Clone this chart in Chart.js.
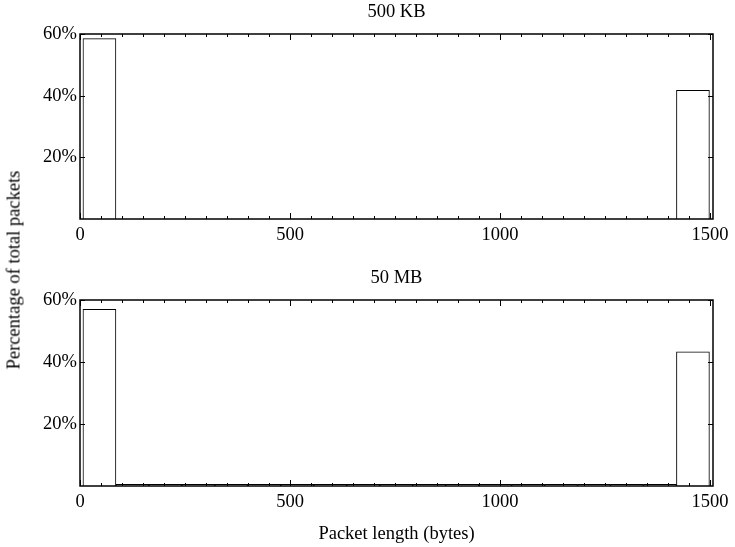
<!DOCTYPE html>
<html lang="en">
<head>
    <meta charset="UTF-8">
    <title>Packet length distribution</title>
    <script src="https://cdn.jsdelivr.net/npm/chart.js"></script>
    <style>
        body { margin: 0; background: #fff; width: 735px; height: 547px; position: relative; overflow: hidden; }
        canvas { position: absolute; left: 0; }
        #top { top: 0; }
        #bottom { top: 260px; }
        .ylabel {
            position: absolute;
            left: 14px;
            top: 270px;
            transform: translate(-50%, -50%) rotate(-90deg);
            font: 18.5px 'Liberation Serif', 'Times New Roman', serif;
            color: #000;
            white-space: nowrap;
        }
    </style>
</head>
<body>
    <canvas id="top" width="735" height="260"></canvas>
    <canvas id="bottom" width="735" height="287"></canvas>
    <div class="ylabel">Percentage of total packets</div>

    <script>
        // histogram bin centres (bytes)
        const binCenters = [46.25, 124.75, 203.25, 281.75, 360.25, 438.75, 517.25, 595.75, 674.25, 752.75,
                            831.25, 909.75, 988.25, 1066.75, 1145.25, 1223.75, 1302.25, 1380.75, 1459.25];
        // percentage of packets per bin
        const kb500 = [58.5, null, null, null, null, null, null, null, null, null,
                       null, null, null, null, null, null, null, null, 41.7];
        const mb50 = [57.0, 0.5, 0.5, 0.5, 0.5, 0.5, 0.5, 0.5, 0.5, 0.5,
                      0.5, 0.5, 0.5, 0.5, 0.5, 0.5, 0.5, 0.5, 43.3];
        const xTicks = [0, 500, 1000, 1500];
        const yTicks = [20, 40, 60];

        const FONT = "'Liberation Serif', 'Times New Roman', serif";
        const SIZE = 18.5;
        Chart.defaults.font.family = FONT;
        Chart.defaults.font.size = SIZE;
        Chart.defaults.color = '#000';

        // inward ticks on all four sides, the box, and the panel title over the plot area
        const framePlugin = {
            id: 'frame',
            afterDraw(chart, args, opts) {
                const { ctx, chartArea: a, scales: { x, y } } = chart;
                ctx.save();
                ctx.strokeStyle = '#000';
                ctx.lineWidth = 1;
                ctx.beginPath();
                for (let v = 0; v <= x.max; v += 50) {
                    const px = Math.round(x.getPixelForValue(v)) + 0.5;
                    const len = v % 500 === 0 ? 6 : 3;
                    ctx.moveTo(px, a.bottom); ctx.lineTo(px, a.bottom - len);
                    ctx.moveTo(px, a.top); ctx.lineTo(px, a.top + len);
                }
                yTicks.forEach(v => {
                    const py = Math.round(y.getPixelForValue(v)) + 0.5;
                    ctx.moveTo(a.left, py); ctx.lineTo(a.left + 5, py);
                    ctx.moveTo(a.right, py); ctx.lineTo(a.right - 5, py);
                });
                ctx.stroke();
                ctx.lineWidth = 1.5;
                ctx.strokeRect(a.left, a.top, a.right - a.left, a.bottom - a.top);

                ctx.fillStyle = '#000';
                ctx.font = SIZE + 'px ' + FONT;
                ctx.textAlign = 'center';
                ctx.textBaseline = 'middle';
                ctx.fillText(opts.text, (a.left + a.right) / 2, opts.y);
                ctx.restore();
            }
        };

        function makeChart(id, title, values, opts) {
            return new Chart(document.getElementById(id), {
                type: 'bar',
                data: {
                    datasets: [{
                        data: binCenters.map((c, i) => ({ x: c, y: values[i] })),
                        backgroundColor: '#fff',
                        borderColor: '#000',
                        borderWidth: 1,
                        barPercentage: 1,
                        categoryPercentage: 1
                    }]
                },
                options: {
                    responsive: false,
                    animation: false,
                    devicePixelRatio: 1,
                    layout: { padding: { left: 0, right: 22, top: opts.top, bottom: 0 } },
                    plugins: {
                        legend: { display: false },
                        tooltip: { enabled: false },
                        title: { display: false },
                        frame: { text: title, y: opts.titleY }
                    },
                    scales: {
                        x: {
                            type: 'linear',
                            offset: false,
                            min: 0,
                            max: 1507,
                            grid: { display: false, drawTicks: false, offset: false },
                            border: { display: false },
                            ticks: { padding: 5, maxRotation: 0, callback: v => String(v) },
                            afterBuildTicks: s => { s.ticks = xTicks.map(v => ({ value: v })); },
                            afterFit: s => { s.height = opts.xHeight; },
                            title: opts.xTitle
                        },
                        y: {
                            min: 0,
                            max: 60,
                            grid: { display: false, drawTicks: false },
                            border: { display: false },
                            ticks: { padding: 3, callback: v => v + '%' },
                            afterBuildTicks: s => { s.ticks = yTicks.map(v => ({ value: v })); },
                            afterFit: s => { s.width = 80; }
                        }
                    }
                },
                plugins: [framePlugin]
            });
        }

        makeChart('top', '500 KB', kb500, {
            top: 34,
            titleY: 12.5,
            xHeight: 41,
            xTitle: { display: false }
        });

        makeChart('bottom', '50 MB', mb50, {
            top: 40,
            titleY: 18.5,
            xHeight: 61,
            xTitle: { display: true, text: 'Packet length (bytes)', font: { size: SIZE }, padding: { top: 0, bottom: 2 } }
        });
    </script>
</body>
</html>
